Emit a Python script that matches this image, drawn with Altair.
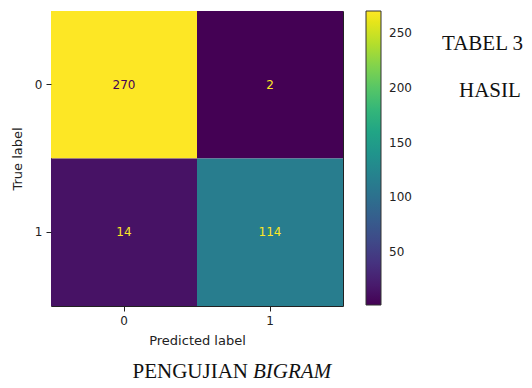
import altair as alt
import pandas as pd

# Confusion matrix values
true_labels = ["0", "0", "1", "1"]
pred_labels = ["0", "1", "0", "1"]
counts = [270, 2, 14, 114]

colorbar_ticks = [50, 100, 150, 200, 250]
right_texts = ["TABEL 3", "HASIL"]
caption_plain = ["PENGUJIAN"]
caption_italic = ["BIGRAM"]

df = pd.DataFrame({"true": true_labels, "pred": pred_labels, "count": counts})
vmin, vmax = min(counts), max(counts)
thresh = (vmin + vmax) / 2

FONT = "DejaVu Sans"
SERIF = "Liberation Serif"

base = alt.Chart(df)

heat = base.mark_rect().encode(
    x=alt.X("pred:O", title="Predicted label",
            axis=alt.Axis(labelAngle=0, labelPadding=4, titlePadding=8)),
    y=alt.Y("true:O", title="True label",
            axis=alt.Axis(labelPadding=4, titlePadding=10)),
    color=alt.Color("count:Q",
                    scale=alt.Scale(scheme="viridis", domain=[vmin, vmax]),
                    legend=alt.Legend(title=None, values=colorbar_ticks,
                                      gradientLength=294, gradientThickness=15,
                                      offset=23, labelOffset=8, padding=0,
                                      gradientStrokeColor="#333",
                                      gradientStrokeWidth=1,
                                      labelFont=FONT, labelFontSize=12,
                                      labelColor="#222")),
)

labels = base.mark_text(font=FONT, fontSize=12, baseline="middle").encode(
    x="pred:O",
    y="true:O",
    text="count:Q",
    color=alt.condition(alt.datum["count"] > thresh,
                        alt.value("#440154"), alt.value("#fde725")),
)

t1 = alt.Chart(pd.DataFrame({"t": [right_texts[0]]})).mark_text(
    font=SERIF, fontSize=21, align="left", color="#111").encode(
    x=alt.value(391), y=alt.value(33), text="t:N")
t2 = alt.Chart(pd.DataFrame({"t": [right_texts[1]]})).mark_text(
    font=SERIF, fontSize=21, align="left", color="#111").encode(
    x=alt.value(408), y=alt.value(80), text="t:N")
c1 = alt.Chart(pd.DataFrame({"t": caption_plain})).mark_text(
    font=SERIF, fontSize=21, align="right", color="#111").encode(
    x=alt.value(197), y=alt.value(361), text="t:N")
c2 = alt.Chart(pd.DataFrame({"t": caption_italic})).mark_text(
    font=SERIF, fontSize=21, align="left", fontStyle="italic", color="#111").encode(
    x=alt.value(202), y=alt.value(361), text="t:N")

chart = alt.layer(heat, labels, t1, t2, c1, c2).properties(
    width=292, height=295,
    autosize=alt.AutoSizeParams(type="none"),
    padding={"left": 43, "top": 3, "right": 181, "bottom": 74},
).configure_view(
    stroke="#222", strokeWidth=1
).configure_axis(
    labelFont=FONT, titleFont=FONT, labelFontSize=12, titleFontSize=13,
    titleFontWeight="normal", labelColor="#222", titleColor="#222",
    domain=False, tickColor="#222", tickSize=5, grid=False,
)

chart.save("out.html", embed_options={"renderer": "svg", "actions": False})
